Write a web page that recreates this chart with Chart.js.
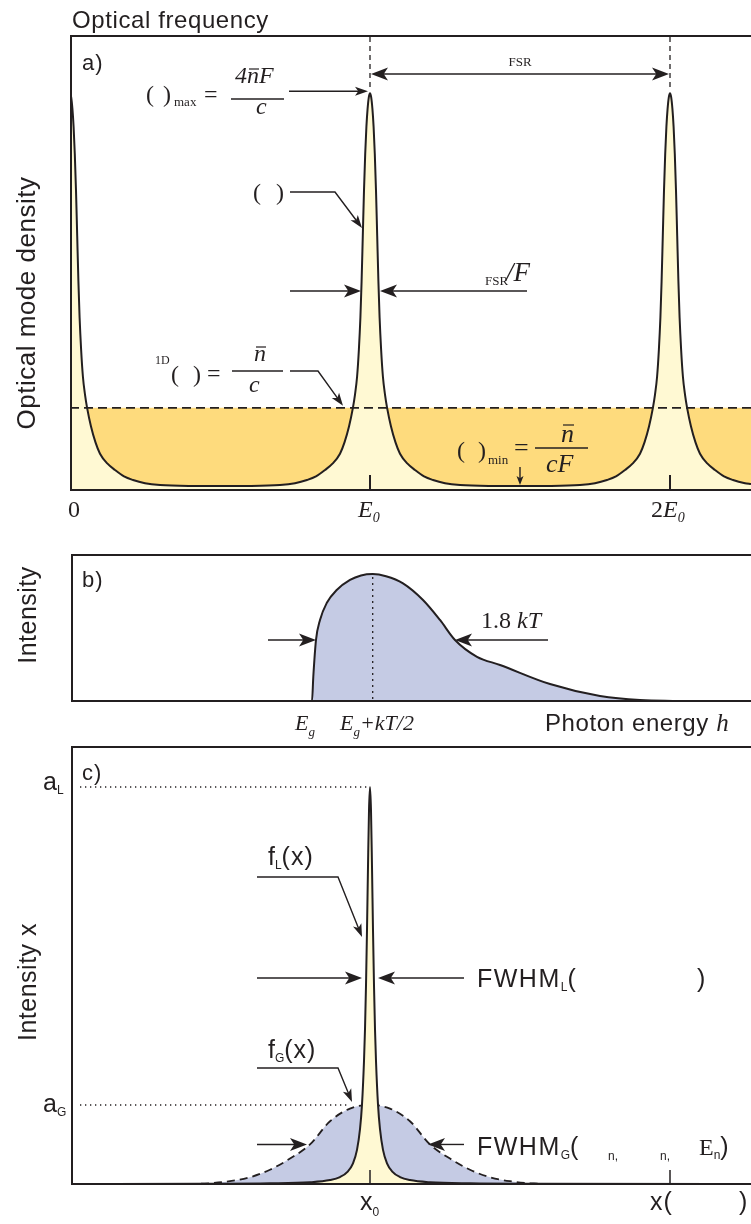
<!DOCTYPE html>
<html>
<head>
<meta charset="utf-8">
<script src="https://cdn.jsdelivr.net/npm/chart.js@4.4.1/dist/chart.umd.min.js"></script>
<style>
  body { margin: 0; background: #fff; width: 751px; height: 1224px; overflow: hidden; position: relative; }
  canvas { position: absolute; left: 0; }
</style>
</head>
<body>
<canvas id="chartA" width="751" height="530" style="top:0;width:751px;height:530px"></canvas>
<canvas id="chartB" width="751" height="210" style="top:530px;width:751px;height:210px"></canvas>
<canvas id="chartC" width="751" height="484" style="top:740px;width:751px;height:484px"></canvas>
<script>
// ---- panel a: optical mode density vs optical frequency (units of E0) ----
var modeX = [0, 0.004, 0.008, 0.012, 0.016, 0.02, 0.024, 0.028, 0.032, 0.037, 0.043, 0.05, 0.057, 0.07, 0.085, 0.1, 0.125, 0.15, 0.18, 0.21, 0.25, 0.3, 0.4, 0.5,
  0.6, 0.7, 0.75, 0.79, 0.82, 0.85, 0.875, 0.9, 0.915, 0.93, 0.943, 0.95, 0.957, 0.963, 0.968, 0.972, 0.976, 0.98, 0.984, 0.988, 0.992, 0.996, 1.0,
  1.004, 1.008, 1.012, 1.016, 1.02, 1.024, 1.028, 1.032, 1.037, 1.043, 1.05, 1.057, 1.07, 1.085, 1.1, 1.125, 1.15, 1.18, 1.21, 1.25, 1.3, 1.4, 1.5,
  1.6, 1.7, 1.75, 1.79, 1.82, 1.85, 1.875, 1.9, 1.915, 1.93, 1.943, 1.95, 1.957, 1.963, 1.968, 1.972, 1.976, 1.98, 1.984, 1.988, 1.992, 1.996, 2.0,
  2.004, 2.008, 2.012, 2.016, 2.02, 2.024, 2.028, 2.032, 2.037, 2.043, 2.05, 2.057, 2.07, 2.085, 2.1, 2.125, 2.15, 2.18, 2.21, 2.25, 2.27];
var modeY = [8.74, 8.65, 8.4, 8.0, 7.4, 6.6, 5.6, 4.6, 3.8, 3.1, 2.5, 2.1, 1.81, 1.4, 1.05, 0.8, 0.58, 0.44, 0.3, 0.22, 0.15, 0.11, 0.09, 0.088,
  0.09, 0.11, 0.15, 0.22, 0.3, 0.44, 0.58, 0.8, 1.05, 1.4, 1.81, 2.1, 2.5, 3.1, 3.8, 4.6, 5.6, 6.6, 7.4, 8.0, 8.4, 8.65, 8.74,
  8.65, 8.4, 8.0, 7.4, 6.6, 5.6, 4.6, 3.8, 3.1, 2.5, 2.1, 1.81, 1.4, 1.05, 0.8, 0.58, 0.44, 0.3, 0.22, 0.15, 0.11, 0.09, 0.088,
  0.09, 0.11, 0.15, 0.22, 0.3, 0.44, 0.58, 0.8, 1.05, 1.4, 1.81, 2.1, 2.5, 3.1, 3.8, 4.6, 5.6, 6.6, 7.4, 8.0, 8.4, 8.65, 8.74,
  8.65, 8.4, 8.0, 7.4, 6.6, 5.6, 4.6, 3.8, 3.1, 2.5, 2.1, 1.81, 1.4, 1.05, 0.8, 0.58, 0.44, 0.3, 0.22, 0.15, 0.13];
var modeLevel = 1.81;      // 1D density (dashed)
var modeMin = 0.088;
var modePeak = 8.74;
var modeTicks = [0, 1, 2];
var modeTickLabels = ['0', 'E', '2E'];

// ---- panel b: emission spectrum ----
var specX = [0, 2.41, 2.423, 2.45, 2.49, 2.557, 2.657, 2.79, 2.9, 3.017, 3.15, 3.32, 3.52, 3.69, 3.84, 4.06, 4.29, 4.79, 5.29, 5.69, 6.29, 6.8];
var specY = [0, 0, 1.66, 4.18, 5.55, 6.71, 7.6, 8.29, 8.6, 8.7, 8.55, 8.06, 6.92, 5.55, 4.18, 3.03, 2.47, 1.16, 0.34, 0.07, 0, 0];
var specEg = 2.41, specPeakX = 3.017, specPeak = 8.7;
var specHalf = [2.45, 3.84];

// ---- panel c: Lorentzian and Gaussian line shapes ----
var lorX = [-5.98, -3.4, -2.0, -1.2, -0.8, -0.6, -0.44, -0.34, -0.26, -0.2, -0.16, -0.12, -0.1, -0.08, -0.06, -0.04, -0.02, 0,
  0.02, 0.04, 0.06, 0.08, 0.1, 0.12, 0.16, 0.2, 0.26, 0.34, 0.44, 0.6, 0.8, 1.2, 2.0, 3.4, 7.62];
var lorY = [0, 0.0006, 0.0016, 0.0044, 0.0099, 0.0175, 0.032, 0.052, 0.086, 0.138, 0.2, 0.31, 0.39, 0.5, 0.64, 0.8, 0.941, 1,
  0.941, 0.8, 0.64, 0.5, 0.39, 0.31, 0.2, 0.138, 0.086, 0.052, 0.032, 0.0175, 0.0099, 0.0044, 0.0016, 0.0006, 0];
var gauX = [-5.98, -3.6, -3.2, -2.8, -2.4, -2.0, -1.6, -1.2, -0.8, -0.4, 0, 0.4, 0.8, 1.2, 1.6, 2.0, 2.4, 2.8, 3.2, 3.6, 7.62];
var gauY = [0, 0, 0.002, 0.007, 0.017, 0.036, 0.064, 0.0996, 0.158, 0.19, 0.199, 0.19, 0.158, 0.0996, 0.064, 0.036, 0.017, 0.007, 0.002, 0, 0];
var aL = 1, aG = 0.199;
var gauHalf = [-1.26, 1.16];
var lineTicks = [0, 6];

var INK = '#231f20';
var SANS = '"Liberation Sans", Arial, sans-serif';
var SERIF = '"Liberation Serif", "Times New Roman", serif';
var PALE = '#fff9d3';
var GOLD = '#fedb7d';
var LAV = '#c5cbe4';

function pairs(xs, ys) {
  return xs.map(function (x, i) { return { x: x, y: ys[i] }; });
}

function seg(ctx, pts, w, dash) {
  ctx.save();
  ctx.lineWidth = w || 1.3;
  ctx.setLineDash(dash || []);
  ctx.beginPath();
  pts.forEach(function (p, i) { if (i) ctx.lineTo(p[0], p[1]); else ctx.moveTo(p[0], p[1]); });
  ctx.stroke();
  ctx.restore();
}

function arrow(ctx, pts, len, half) {
  len = len || 15; half = half || 5.5;
  var n = pts.length, p = pts[n - 1], q = pts[n - 2];
  var ang = Math.atan2(p[1] - q[1], p[0] - q[0]);
  var body = pts.slice(0, n - 1).concat([[p[0] - Math.cos(ang) * len * 0.7, p[1] - Math.sin(ang) * len * 0.7]]);
  seg(ctx, body, 1.4);
  ctx.save();
  ctx.translate(p[0], p[1]);
  ctx.rotate(ang);
  ctx.beginPath();
  ctx.moveTo(0, 0);
  ctx.lineTo(-len, -half);
  ctx.lineTo(-len * 0.75, 0);
  ctx.lineTo(-len, half);
  ctx.closePath();
  ctx.fill();
  ctx.restore();
}

// parts: [text, font, dy, overlineOffset, letterSpacing]
function runs(ctx, x, y, parts) {
  parts.forEach(function (p) {
    ctx.font = p[1];
    ctx.letterSpacing = (p[4] || 0) + 'px';
    var w = ctx.measureText(p[0]).width;
    ctx.fillText(p[0], x, y + (p[2] || 0));
    if (p[3]) seg(ctx, [[x + 2, y + p[3]], [x + w, y + p[3]]], 1.2);
    x += w;
  });
  ctx.letterSpacing = '0px';
  return x;
}

function vtext(ctx, s, x, y, font, sp) {
  ctx.save();
  ctx.translate(x, y);
  ctx.rotate(-Math.PI / 2);
  ctx.font = font;
  ctx.letterSpacing = (sp || 0) + 'px';
  ctx.textAlign = 'center';
  ctx.textBaseline = 'middle';
  ctx.fillText(s, 0, 0);
  ctx.restore();
}

function frame(ctx, a, T) {
  seg(ctx, [[a.right, a.top + T], [a.left + 1, a.top + T], [a.left + 1, a.bottom + T]], 2);
  seg(ctx, [[a.left, a.bottom + T], [a.right, a.bottom + T]], 2);
}

var sans = function (s) { return s + 'px ' + SANS; };
var ser = function (s) { return s + 'px ' + SERIF; };
var it = function (s) { return 'italic ' + s + 'px ' + SERIF; };

function makeChart(id, top, height, area, datasets, xr, yr, draw) {
  return new Chart(document.getElementById(id), {
    type: 'line',
    data: { datasets: datasets },
    options: {
      responsive: false,
      animation: false,
      devicePixelRatio: 1,
      layout: { padding: { left: area[0], top: area[1] - top, right: 751 - area[2], bottom: top + height - area[3] } },
      plugins: { legend: { display: false }, tooltip: { enabled: false } },
      elements: { point: { radius: 0 } },
      scales: {
        x: { type: 'linear', display: false, min: xr[0], max: xr[1] },
        y: { type: 'linear', display: false, min: yr[0], max: yr[1] }
      }
    },
    plugins: [{
      id: 'notes_' + id,
      afterDraw: function (c) {
        var ctx = c.ctx;
        ctx.save();
        ctx.translate(0, -top);
        ctx.strokeStyle = INK;
        ctx.fillStyle = INK;
        ctx.textAlign = 'left';
        ctx.textBaseline = 'alphabetic';
        var sx = c.scales.x, sy = c.scales.y;
        draw(ctx, function (v) { return sx.getPixelForValue(v); }, function (v) { return sy.getPixelForValue(v) + top; }, c.chartArea, top);
        ctx.restore();
      }
    }]
  });
}

// ---------- panel a ----------
var modeData = pairs(modeX, modeY);
makeChart('chartA', 0, 530, [70, 36, 751, 490], [
  { data: modeData, borderWidth: 0, borderColor: 'rgba(0,0,0,0)', backgroundColor: PALE, fill: 'origin', cubicInterpolationMode: 'monotone', order: 3 },
  { data: [{ x: 0, y: modeLevel }, { x: 2.27, y: modeLevel }], borderColor: INK, borderWidth: 1.8, borderDash: [9, 5],
    fill: { target: 0, above: GOLD, below: 'rgba(0,0,0,0)' }, order: 2 },
  { data: modeData, borderColor: INK, borderWidth: 2, fill: false, cubicInterpolationMode: 'monotone', order: 1 }
], [0, 2.27], [0, 10], function (ctx, X, Y, a, T) {
  frame(ctx, a, T);
  var e1 = X(modeTicks[1]), e2 = X(modeTicks[2]), top = Y(modePeak);
  [e1, e2].forEach(function (e) { seg(ctx, [[e, a.bottom - 15], [e, a.bottom]], 2); });
  // tick labels
  runs(ctx, X(0) - 2, 517, [[modeTickLabels[0], ser(24)]]);
  runs(ctx, e1 - 12, 517, [[modeTickLabels[1], it(24)], ['0', it(14), 5]]);
  runs(ctx, e2 - 19, 517, [['2', ser(24)], ['E', it(24)], ['0', it(14), 5]]);
  // titles
  runs(ctx, 72, 28, [['Optical frequency', sans(24), 0, 0, 0.6]]);
  runs(ctx, 82, 70, [['a)', sans(22), 0, 0, 1]]);
  vtext(ctx, 'Optical mode density', 28, 303, sans(26), 0.5);
  // FSR
  seg(ctx, [[e1, a.top + 1], [e1, top - 4]], 1.3, [5, 4]);
  seg(ctx, [[e2, a.top + 1], [e2, top - 4]], 1.3, [5, 4]);
  var mid = (e1 + e2) / 2;
  arrow(ctx, [[mid, 74], [e1 + 1, 74]], 17, 6.5);
  arrow(ctx, [[mid, 74], [e2 - 1, 74]], 17, 6.5);
  ctx.font = ser(13); ctx.textAlign = 'center'; ctx.fillText('FSR', mid, 66); ctx.textAlign = 'left';
  // maximum
  ctx.font = ser(24); ctx.fillText('(', 146, 102); ctx.fillText(')', 163, 102);
  ctx.font = ser(13); ctx.fillText('max', 174, 106);
  ctx.font = ser(24); ctx.fillText('=', 204, 102);
  runs(ctx, 235, 83, [['4', it(24)], ['n', it(24), 0, -14], ['F', it(24)]]);
  seg(ctx, [[231, 99], [284, 99]], 1.3);
  ctx.font = it(24); ctx.fillText('c', 256, 114);
  arrow(ctx, [[289, top - 2], [e1 - 2, top - 2]], 13, 4.5);
  // curve label
  ctx.font = ser(24); ctx.fillText('(', 253, 200); ctx.fillText(')', 276, 200);
  arrow(ctx, [[290, 192], [335, 192], [e1 - 8, 228]], 13, 4.5);
  // width FSR/F
  arrow(ctx, [[290, 291], [e1 - 9, 291]], 17, 6.5);
  arrow(ctx, [[527, 291], [e1 + 10, 291]], 17, 6.5);
  runs(ctx, 485, 285, [['FSR', ser(13)]]);
  runs(ctx, 506, 281, [['/F', it(27)]]);
  // 1D level
  ctx.font = ser(12); ctx.fillText('1D', 155, 364);
  ctx.font = ser(24); ctx.fillText('(', 171, 382); ctx.fillText(')', 193, 382); ctx.fillText('=', 207, 381);
  runs(ctx, 254, 361, [['n', it(24), 0, -14]]);
  seg(ctx, [[232, 371], [283, 371]], 1.3);
  ctx.font = it(24); ctx.fillText('c', 249, 392);
  arrow(ctx, [[290, 371], [318, 371], [e1 - 27, Y(modeLevel) - 2]], 13, 4.5);
  // minimum
  ctx.font = ser(24); ctx.fillText('(', 457, 458); ctx.fillText(')', 478, 458);
  ctx.font = ser(13); ctx.fillText('min', 488, 464);
  ctx.font = ser(26); ctx.fillText('=', 514, 456);
  runs(ctx, 561, 442, [['n', it(26), 0, -17]]);
  seg(ctx, [[535, 448], [588, 448]], 1.3);
  ctx.font = it(26); ctx.fillText('cF', 546, 472);
  arrow(ctx, [[X(1.5), 467], [X(1.5), Y(modeMin) - 1]], 9, 3.5);
});

// ---------- panel b ----------
makeChart('chartB', 530, 210, [71, 555, 751, 701], [
  { data: pairs(specX, specY), borderColor: INK, borderWidth: 2, backgroundColor: LAV, fill: 'origin', cubicInterpolationMode: 'monotone' }
], [0, 6.8], [0, 10], function (ctx, X, Y, a, T) {
  frame(ctx, a, T);
  runs(ctx, 82, 587, [['b)', sans(22), 0, 0, 1]]);
  vtext(ctx, 'Intensity', 29, 615, sans(25), 0.5);
  seg(ctx, [[X(specPeakX), Y(specPeak) + 3], [X(specPeakX), Y(0)]], 1.3, [2, 4]);
  var yh = Y(specY[3]);
  arrow(ctx, [[268, yh], [X(specHalf[0]), yh]], 17, 6.5);
  arrow(ctx, [[548, yh], [X(specHalf[1]), yh]], 17, 6.5);
  runs(ctx, 481, 628, [['1.8 ', ser(24)], ['kT', it(24)]]);
  runs(ctx, X(specEg) - 17, 730, [['E', it(22)], ['g', it(13), 6]]);
  runs(ctx, 340, 730, [['E', it(22)], ['g', it(13), 6], ['+kT/2', it(22)]]);
  runs(ctx, 545, 731, [['Photon energy ', sans(24), 0, 0, 0.6], ['h', it(25)]]);
});

// ---------- panel c ----------
makeChart('chartC', 740, 484, [71, 747, 751, 1184], [
  { data: pairs(lorX, lorY), borderColor: INK, borderWidth: 2, backgroundColor: PALE, fill: 'origin', cubicInterpolationMode: 'monotone', order: 1 },
  { data: pairs(gauX, gauY), borderColor: INK, borderWidth: 1.8, borderDash: [8, 5], backgroundColor: LAV, fill: 'origin', cubicInterpolationMode: 'monotone', order: 2 }
], [-5.98, 7.62], [0, 1.1008], function (ctx, X, Y, a, T) {
  frame(ctx, a, T);
  lineTicks.forEach(function (t) { seg(ctx, [[X(t), a.bottom + T - 14], [X(t), a.bottom + T]], 1.5); });
  runs(ctx, 82, 780, [['c)', sans(22), 0, 0, 1]]);
  vtext(ctx, 'Intensity x', 29, 982, sans(25), 0.5);
  // amplitudes
  runs(ctx, 43, 790, [['a', sans(25)], ['L', sans(12), 4]]);
  runs(ctx, 43, 1112, [['a', sans(25)], ['G', sans(12), 4]]);
  seg(ctx, [[80, Y(aL)], [X(0) - 3, Y(aL)]], 1.3, [1.3, 3.7]);
  seg(ctx, [[80, Y(aG)], [X(-0.4), Y(aG)]], 1.3, [1.3, 3.7]);
  // labels with leaders
  runs(ctx, 268, 865, [['f', sans(25)], ['L', sans(12), 4], ['(x)', sans(25), 0, 0, 1]]);
  arrow(ctx, [[257, 877], [338, 877], [X(0) - 8, 937]], 13, 4.5);
  runs(ctx, 268, 1058, [['f', sans(25)], ['G', sans(12), 4], ['(x)', sans(25), 0, 0, 1]]);
  arrow(ctx, [[257, 1068], [338, 1068], [X(-0.36), Y(aG) - 3]], 13, 4.5);
  // FWHM
  var yl = 978, yg = Y(gauY[7]);
  arrow(ctx, [[257, yl], [X(0) - 8, yl]], 17, 6.5);
  arrow(ctx, [[464, yl], [X(0) + 8, yl]], 17, 6.5);
  arrow(ctx, [[257, yg], [X(gauHalf[0]), yg]], 17, 6.5);
  arrow(ctx, [[464, yg], [X(gauHalf[1]), yg]], 17, 6.5);
  runs(ctx, 477, 987, [['FWHM', sans(25), 0, 0, 1.5], ['L', sans(12), 4], ['(', sans(25)]]);
  ctx.font = sans(25); ctx.fillText(')', 697, 987);
  runs(ctx, 477, 1155, [['FWHM', sans(25), 0, 0, 1.5], ['G', sans(12), 4], ['(', sans(25)]]);
  ctx.font = sans(12); ctx.fillText('n,', 608, 1160); ctx.fillText('n,', 660, 1160);
  runs(ctx, 699, 1155, [['E', ser(24)], ['n', sans(12), 4], [')', sans(25)]]);
  // axis labels
  runs(ctx, X(0) - 10, 1210, [['x', sans(25)], ['0', sans(12), 6]]);
  runs(ctx, X(lineTicks[1]) - 20, 1210, [['x(', sans(25), 0, 0, 1]]);
  ctx.font = sans(25); ctx.fillText(')', 739, 1210);
});
</script>
</body>
</html>
